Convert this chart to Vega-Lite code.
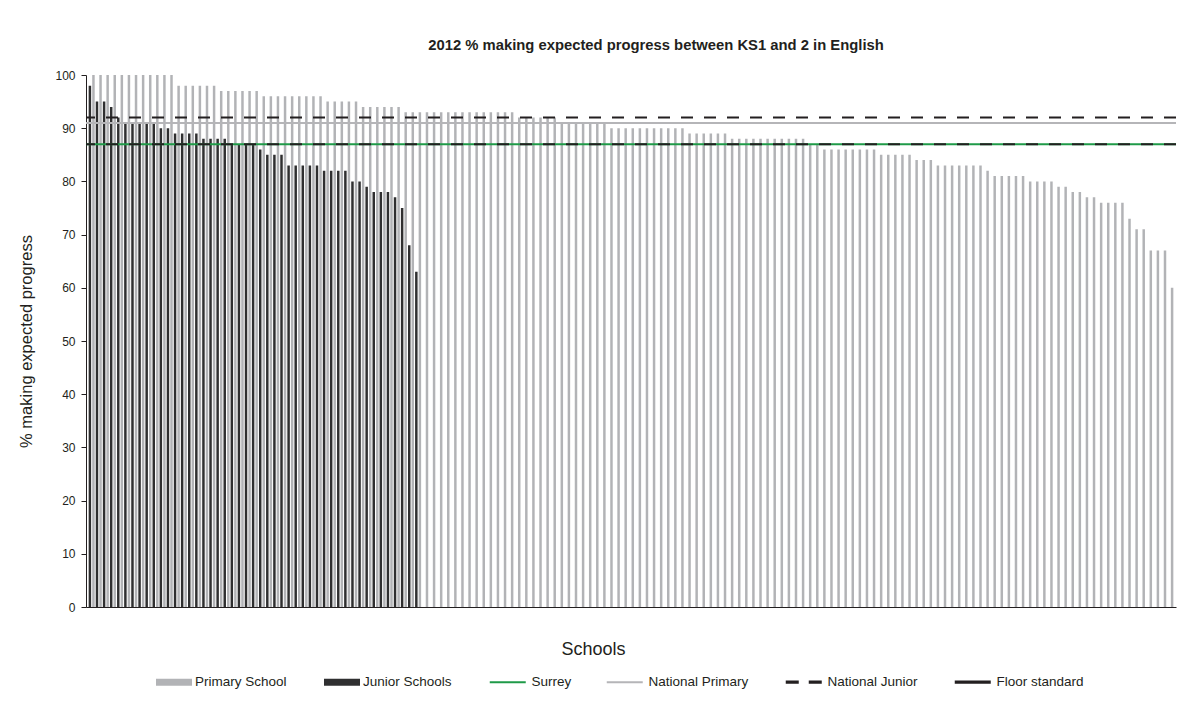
{
  "$schema": "https://vega.github.io/schema/vega-lite/v6.json",
  "width": 1090,
  "height": 532,
  "autosize": {"type": "none"},
  "padding": {"left": 86, "top": 75, "right": 28, "bottom": 102},
  "background": "white",
  "config": {
    "font": "Liberation Sans",
    "view": {"stroke": null},
    "axis": {"grid": false, "domainColor": "#231f20", "tickColor": "#231f20", "labelColor": "#231f20", "titleColor": "#231f20", "labelFont": "Liberation Sans", "titleFont": "Liberation Sans"},
    "legend": {"labelFont": "Liberation Sans", "labelFontSize": 13.5, "labelColor": "#231f20", "title": null}
  },
  "title": {"text": "2012 % making expected progress between KS1 and 2 in English", "fontSize": 14.8, "fontWeight": "bold", "color": "#231f20", "font": "Liberation Sans", "offset": 16, "dx": 25},
  "datasets": {
    "schools": [
      {"school": 1, "Primary School": 100, "Junior Schools": 98},
      {"school": 2, "Primary School": 100, "Junior Schools": 95},
      {"school": 3, "Primary School": 100, "Junior Schools": 95},
      {"school": 4, "Primary School": 100, "Junior Schools": 94},
      {"school": 5, "Primary School": 100, "Junior Schools": 92},
      {"school": 6, "Primary School": 100, "Junior Schools": 91},
      {"school": 7, "Primary School": 100, "Junior Schools": 91},
      {"school": 8, "Primary School": 100, "Junior Schools": 91},
      {"school": 9, "Primary School": 100, "Junior Schools": 91},
      {"school": 10, "Primary School": 100, "Junior Schools": 91},
      {"school": 11, "Primary School": 100, "Junior Schools": 90},
      {"school": 12, "Primary School": 100, "Junior Schools": 90},
      {"school": 13, "Primary School": 98, "Junior Schools": 89},
      {"school": 14, "Primary School": 98, "Junior Schools": 89},
      {"school": 15, "Primary School": 98, "Junior Schools": 89},
      {"school": 16, "Primary School": 98, "Junior Schools": 89},
      {"school": 17, "Primary School": 98, "Junior Schools": 88},
      {"school": 18, "Primary School": 98, "Junior Schools": 88},
      {"school": 19, "Primary School": 97, "Junior Schools": 88},
      {"school": 20, "Primary School": 97, "Junior Schools": 88},
      {"school": 21, "Primary School": 97, "Junior Schools": 87},
      {"school": 22, "Primary School": 97, "Junior Schools": 87},
      {"school": 23, "Primary School": 97, "Junior Schools": 87},
      {"school": 24, "Primary School": 97, "Junior Schools": 87},
      {"school": 25, "Primary School": 96, "Junior Schools": 86},
      {"school": 26, "Primary School": 96, "Junior Schools": 85},
      {"school": 27, "Primary School": 96, "Junior Schools": 85},
      {"school": 28, "Primary School": 96, "Junior Schools": 85},
      {"school": 29, "Primary School": 96, "Junior Schools": 83},
      {"school": 30, "Primary School": 96, "Junior Schools": 83},
      {"school": 31, "Primary School": 96, "Junior Schools": 83},
      {"school": 32, "Primary School": 96, "Junior Schools": 83},
      {"school": 33, "Primary School": 96, "Junior Schools": 83},
      {"school": 34, "Primary School": 95, "Junior Schools": 82},
      {"school": 35, "Primary School": 95, "Junior Schools": 82},
      {"school": 36, "Primary School": 95, "Junior Schools": 82},
      {"school": 37, "Primary School": 95, "Junior Schools": 82},
      {"school": 38, "Primary School": 95, "Junior Schools": 80},
      {"school": 39, "Primary School": 94, "Junior Schools": 80},
      {"school": 40, "Primary School": 94, "Junior Schools": 79},
      {"school": 41, "Primary School": 94, "Junior Schools": 78},
      {"school": 42, "Primary School": 94, "Junior Schools": 78},
      {"school": 43, "Primary School": 94, "Junior Schools": 78},
      {"school": 44, "Primary School": 94, "Junior Schools": 77},
      {"school": 45, "Primary School": 93, "Junior Schools": 75},
      {"school": 46, "Primary School": 93, "Junior Schools": 68},
      {"school": 47, "Primary School": 93, "Junior Schools": 63},
      {"school": 48, "Primary School": 93},
      {"school": 49, "Primary School": 93},
      {"school": 50, "Primary School": 93},
      {"school": 51, "Primary School": 93},
      {"school": 52, "Primary School": 93},
      {"school": 53, "Primary School": 93},
      {"school": 54, "Primary School": 93},
      {"school": 55, "Primary School": 93},
      {"school": 56, "Primary School": 93},
      {"school": 57, "Primary School": 93},
      {"school": 58, "Primary School": 93},
      {"school": 59, "Primary School": 93},
      {"school": 60, "Primary School": 93},
      {"school": 61, "Primary School": 92},
      {"school": 62, "Primary School": 92},
      {"school": 63, "Primary School": 92},
      {"school": 64, "Primary School": 92},
      {"school": 65, "Primary School": 92},
      {"school": 66, "Primary School": 92},
      {"school": 67, "Primary School": 91},
      {"school": 68, "Primary School": 91},
      {"school": 69, "Primary School": 91},
      {"school": 70, "Primary School": 91},
      {"school": 71, "Primary School": 91},
      {"school": 72, "Primary School": 91},
      {"school": 73, "Primary School": 91},
      {"school": 74, "Primary School": 90},
      {"school": 75, "Primary School": 90},
      {"school": 76, "Primary School": 90},
      {"school": 77, "Primary School": 90},
      {"school": 78, "Primary School": 90},
      {"school": 79, "Primary School": 90},
      {"school": 80, "Primary School": 90},
      {"school": 81, "Primary School": 90},
      {"school": 82, "Primary School": 90},
      {"school": 83, "Primary School": 90},
      {"school": 84, "Primary School": 90},
      {"school": 85, "Primary School": 89},
      {"school": 86, "Primary School": 89},
      {"school": 87, "Primary School": 89},
      {"school": 88, "Primary School": 89},
      {"school": 89, "Primary School": 89},
      {"school": 90, "Primary School": 89},
      {"school": 91, "Primary School": 88},
      {"school": 92, "Primary School": 88},
      {"school": 93, "Primary School": 88},
      {"school": 94, "Primary School": 88},
      {"school": 95, "Primary School": 88},
      {"school": 96, "Primary School": 88},
      {"school": 97, "Primary School": 88},
      {"school": 98, "Primary School": 88},
      {"school": 99, "Primary School": 88},
      {"school": 100, "Primary School": 88},
      {"school": 101, "Primary School": 88},
      {"school": 102, "Primary School": 87},
      {"school": 103, "Primary School": 87},
      {"school": 104, "Primary School": 86},
      {"school": 105, "Primary School": 86},
      {"school": 106, "Primary School": 86},
      {"school": 107, "Primary School": 86},
      {"school": 108, "Primary School": 86},
      {"school": 109, "Primary School": 86},
      {"school": 110, "Primary School": 86},
      {"school": 111, "Primary School": 86},
      {"school": 112, "Primary School": 85},
      {"school": 113, "Primary School": 85},
      {"school": 114, "Primary School": 85},
      {"school": 115, "Primary School": 85},
      {"school": 116, "Primary School": 85},
      {"school": 117, "Primary School": 84},
      {"school": 118, "Primary School": 84},
      {"school": 119, "Primary School": 84},
      {"school": 120, "Primary School": 83},
      {"school": 121, "Primary School": 83},
      {"school": 122, "Primary School": 83},
      {"school": 123, "Primary School": 83},
      {"school": 124, "Primary School": 83},
      {"school": 125, "Primary School": 83},
      {"school": 126, "Primary School": 83},
      {"school": 127, "Primary School": 82},
      {"school": 128, "Primary School": 81},
      {"school": 129, "Primary School": 81},
      {"school": 130, "Primary School": 81},
      {"school": 131, "Primary School": 81},
      {"school": 132, "Primary School": 81},
      {"school": 133, "Primary School": 80},
      {"school": 134, "Primary School": 80},
      {"school": 135, "Primary School": 80},
      {"school": 136, "Primary School": 80},
      {"school": 137, "Primary School": 79},
      {"school": 138, "Primary School": 79},
      {"school": 139, "Primary School": 78},
      {"school": 140, "Primary School": 78},
      {"school": 141, "Primary School": 77},
      {"school": 142, "Primary School": 77},
      {"school": 143, "Primary School": 76},
      {"school": 144, "Primary School": 76},
      {"school": 145, "Primary School": 76},
      {"school": 146, "Primary School": 76},
      {"school": 147, "Primary School": 73},
      {"school": 148, "Primary School": 71},
      {"school": 149, "Primary School": 71},
      {"school": 150, "Primary School": 67},
      {"school": 151, "Primary School": 67},
      {"school": 152, "Primary School": 67},
      {"school": 153, "Primary School": 60}
    ],
    "benchmarks": [
      {"series": "Surrey", "value": 87},
      {"series": "National Primary", "value": 91},
      {"series": "National Junior", "value": 92},
      {"series": "Floor standard", "value": 87}
    ]
  },
  "resolve": {"scale": {"color": "independent"}, "legend": {"color": "independent"}},
  "layer": [
    {
      "data": {"name": "schools"},
      "transform": [
        {"fold": ["Primary School", "Junior Schools"], "as": ["type", "pct"]},
        {"filter": "isValid(datum.pct)"}
      ],
      "mark": {"type": "bar", "width": {"band": 1}},
      "encoding": {
        "x": {
          "field": "school", "type": "ordinal", "sort": "ascending",
          "scale": {"paddingInner": 0, "paddingOuter": 0.3},
          "axis": {"title": "Schools", "labels": false, "ticks": false, "domain": true, "titleFontSize": 18, "titleFontWeight": "normal", "titlePadding": 33, "titleX": 507}
        },
        "xOffset": {
          "field": "type", "type": "nominal", "sort": ["Junior Schools", "Primary School"],
          "scale": {"paddingInner": 0.3, "paddingOuter": 0.15}
        },
        "y": {
          "field": "pct", "type": "quantitative",
          "scale": {"domain": [0, 100], "nice": false},
          "axis": {"title": "% making expected progress", "values": [0, 10, 20, 30, 40, 50, 60, 70, 80, 90, 100], "tickSize": 5, "labelPadding": 6, "labelFontSize": 12, "titleFontSize": 16.5, "titleFontWeight": "normal", "titlePadding": 20}
        },
        "color": {
          "field": "type", "type": "nominal",
          "scale": {"domain": ["Primary School", "Junior Schools"], "range": ["#b2b3b6", "#2f2f30"]},
          "legend": {
            "orient": "none",
            "legendX": 70,
            "legendY": 589,
            "direction": "horizontal",
            "symbolType": "M-1,-0.2H1V0.2H-1Z",
            "symbolSize": 1296,
            "symbolStrokeWidth": 0,
            "labelOffset": 3,
            "columnPadding": 37
          }
        }
      }
    },
    {
      "data": {"name": "benchmarks"},
      "mark": {"type": "rule"},
      "encoding": {
        "y": {"field": "value", "type": "quantitative"},
        "color": {
          "field": "series", "type": "nominal",
          "scale": {"domain": ["Surrey", "National Primary", "National Junior", "Floor standard"], "range": ["#1f9a48", "#b5b5b8", "#231f20", "#231f20"]},
          "legend": {
            "orient": "none",
            "legendX": 404,
            "legendY": 600,
            "direction": "horizontal",
            "symbolType": "stroke",
            "symbolSize": 1296,
            "symbolStrokeWidth": 2.5,
            "symbolOffset": 11,
            "labelOffset": 17,
            "columnPadding": 30,
            "encode": {
              "symbols": {
                "update": {
                  "strokeDash": {"signal": "datum.value === 'National Junior' ? [13, 10] : [1, 0]"},
                  "strokeWidth": {"signal": "datum.value === 'National Junior' || datum.value === 'Floor standard' ? 3.2 : 2"}
                }
              }
            }
          }
        },
        "strokeDash": {
          "field": "series", "type": "nominal",
          "scale": {"domain": ["Surrey", "National Primary", "National Junior", "Floor standard"], "range": [[1, 0], [1, 0], [12, 11], [12, 11]]},
          "legend": null
        },
        "strokeWidth": {
          "field": "series", "type": "nominal",
          "scale": {"domain": ["Surrey", "National Primary", "National Junior", "Floor standard"], "range": [2, 2, 2.5, 3.5]},
          "legend": null
        }
      }
    }
  ]
}
